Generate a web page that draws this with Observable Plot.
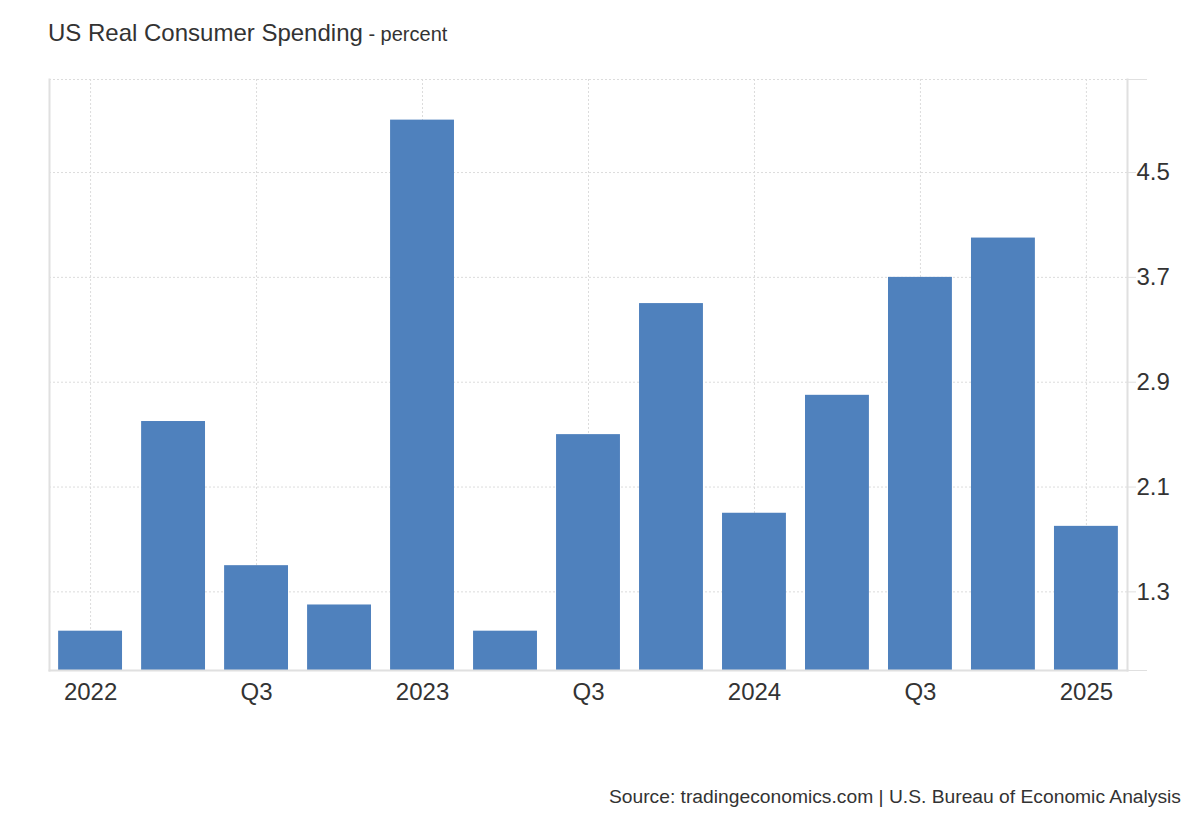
<!DOCTYPE html>
<html>
<head>
<meta charset="utf-8">
<script src="https://cdn.jsdelivr.net/npm/d3@7"></script>
<script src="https://cdn.jsdelivr.net/npm/@observablehq/plot@0.6"></script>
<style>
  html, body { margin: 0; padding: 0; background: #fff; width: 1200px; height: 820px; overflow: hidden; }
  body { position: relative; font-family: "Liberation Sans", Arial, sans-serif; color: #333; }
  #title { position: absolute; left: 48px; top: 21px; font-size: 24px; line-height: 24px; white-space: nowrap; color: #333; }
  #title .unit { font-size: 20px; }
  #chart { position: absolute; left: 0; top: 60px; }
  #source { position: absolute; right: 19px; top: 787px; font-size: 19.25px; line-height: 19px; color: #333; white-space: nowrap; }
</style>
</head>
<body>
<div id="title">US Real Consumer Spending<span class="unit"> - percent</span></div>
<div id="chart"></div>
<div id="source">Source: tradingeconomics.com | U.S. Bureau of Economic Analysis</div>
<script>
const quarters = ["2022 Q1","2022 Q2","2022 Q3","2022 Q4","2023 Q1","2023 Q2","2023 Q3","2023 Q4","2024 Q1","2024 Q2","2024 Q3","2024 Q4","2025 Q1"];
const values = [1.0, 2.6, 1.5, 1.2, 4.9, 1.0, 2.5, 3.5, 1.9, 2.8, 3.7, 4.0, 1.8];
const xTickQuarters = ["2022 Q1","2022 Q3","2023 Q1","2023 Q3","2024 Q1","2024 Q3","2025 Q1"];
const xTickLabels = ["2022","Q3","2023","Q3","2024","Q3","2025"];
const yTicks = [1.3, 2.1, 2.9, 3.7, 4.5];
const yDomain = [0.7, 5.21];

const data = quarters.map((q, i) => ({quarter: q, value: values[i]}));
const labelMap = new Map(xTickQuarters.map((q, i) => [q, xTickLabels[i]]));

const grid = "#dcdcdc";
const axisLine = "#e0e0e0";

const chart = Plot.plot({
  width: 1200,
  height: 700,
  marginLeft: 49,
  marginRight: 73,
  marginTop: 19,
  marginBottom: 90,
  x: {type: "band", domain: quarters, paddingInner: 0.23, paddingOuter: 0.11, round: false, axis: null, label: null},
  y: {domain: yDomain, axis: null, label: null},
  style: {fontFamily: "'Liberation Sans', Arial, sans-serif", color: "#333", background: "#fff", overflow: "visible"},
  marks: [
    Plot.gridY(yTicks.concat([yDomain[1]]), {stroke: grid, strokeOpacity: 1, strokeDasharray: "2,2"}),
    Plot.gridX(xTickQuarters, {stroke: grid, strokeOpacity: 1, strokeDasharray: "2,2"}),
    Plot.barY(data, {x: "quarter", y: "value", fill: "#4f81bd", clip: true}),
    Plot.frame({anchor: "left", stroke: axisLine, strokeWidth: 2}),
    Plot.frame({anchor: "right", stroke: axisLine, strokeWidth: 2}),
    Plot.frame({anchor: "bottom", stroke: axisLine, strokeWidth: 2}),
    Plot.axisY(yTicks, {anchor: "right", label: null, tickSize: 8, tickPadding: 1, fontSize: 24, stroke: axisLine, fill: "#333"}),
    Plot.axisY(yDomain, {anchor: "right", label: null, tickSize: 19, tickFormat: () => "", stroke: axisLine}),
    Plot.axisX(xTickQuarters, {anchor: "bottom", label: null, tickSize: 0, tickPadding: 12, fontSize: 24, tickFormat: q => labelMap.get(q), fill: "#333"})
  ]
});
document.getElementById("chart").appendChild(chart);
</script>
</body>
</html>
